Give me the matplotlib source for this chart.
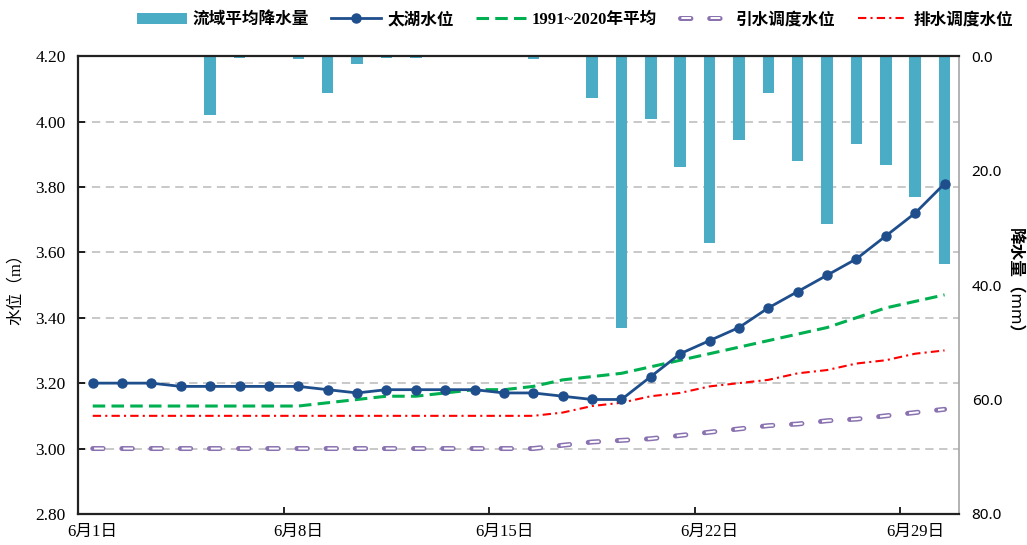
import numpy as np
import matplotlib
matplotlib.use("Agg")
import matplotlib.pyplot as plt
from matplotlib.ticker import FormatStrFormatter

plt.rcParams['font.family'] = ['Liberation Serif', 'Noto Sans CJK SC']
plt.rcParams['lines.scale_dashes'] = False

days = list(range(1, 31))
day_labels = ["6月%d日" % d for d in days]

rain = [0, 0, 0, 0.2, 10.3, 0.4, 0, 0.5, 6.5, 1.3, 0.4, 0.3, 0, 0, 0, 0.5, 0,
        7.3, 47.5, 11.0, 19.3, 32.7, 14.7, 6.5, 18.3, 29.4, 15.3, 19.0, 24.6, 36.4]
taihu = [3.20, 3.20, 3.20, 3.19, 3.19, 3.19, 3.19, 3.19, 3.18, 3.17, 3.18, 3.18, 3.18, 3.18, 3.17,
         3.17, 3.16, 3.15, 3.15, 3.22, 3.29, 3.33, 3.37, 3.43, 3.48, 3.53, 3.58, 3.65, 3.72, 3.81]
avg_1991_2020 = [3.13, 3.13, 3.13, 3.13, 3.13, 3.13, 3.13, 3.13, 3.14, 3.15, 3.16, 3.16, 3.17, 3.18, 3.18,
                 3.19, 3.21, 3.22, 3.23, 3.25, 3.27, 3.29, 3.31, 3.33, 3.35, 3.37, 3.40, 3.43, 3.45, 3.47]
yinshui = [3.00] * 16 + [3.01, 3.02, 3.025, 3.03, 3.04, 3.05, 3.06, 3.07, 3.075, 3.085, 3.09, 3.10, 3.11, 3.12]
paishui = [3.10] * 16 + [3.11, 3.13, 3.14, 3.16, 3.17, 3.19, 3.20, 3.21, 3.23, 3.24, 3.26, 3.27, 3.29, 3.30]

level_ticks = [2.80, 3.00, 3.20, 3.40, 3.60, 3.80, 4.00, 4.20]
rain_ticks = [0, 20, 40, 60, 80]

x = np.arange(len(days))

fig = plt.figure(figsize=(10.27, 5.45), dpi=100)
ax = fig.add_axes([0.076, 0.057, 0.858, 0.84])
ax2 = ax.twinx()

# bars go on the lower axes, lines on top
ax.set_zorder(ax2.get_zorder() + 1)
ax.patch.set_visible(False)

ax2.set_ylim(80, 0)
ax2.set_yticks(rain_ticks)
ax2.yaxis.set_major_formatter(FormatStrFormatter('%.1f'))
for lv in level_ticks[1:-1]:
    ax2.axhline((4.2 - lv) / 1.4 * 80, color='#bfbfbf', lw=1.2, dashes=(6, 4), zorder=0.5)
bars = ax2.bar(x, rain, width=0.39, color='#4bacc6', zorder=1, label='流域平均降水量')
ax2.tick_params(axis='y', length=0, pad=9, labelsize=11)
for lab in ax2.get_yticklabels():
    lab.set_family('Noto Sans')
ax2.set_ylabel('降水量（mm）', rotation=270, labelpad=14, fontsize=12,
               family=['Noto Sans', 'Noto Sans CJK SC'], fontweight='bold')
for s in ['left', 'top', 'bottom']:
    ax2.spines[s].set_visible(False)
ax2.spines['right'].set_color('#a6a6a6')
ax2.spines['right'].set_linewidth(1.2)

l_taihu, = ax.plot(x, taihu, color='#1f4e8c', lw=2, marker='o', ms=6.5, zorder=5, label='太湖水位')
l_avg, = ax.plot(x, avg_1991_2020, color='#00b050', lw=2.2, dashes=(9, 4.5), zorder=4, label='1991~2020年平均')
l_yin_o, = ax.plot(x, yinshui, color='#8a72b0', lw=3.6, dashes=(7.5, 13.5),
                   dash_capstyle='round', zorder=3)
l_yin_i, = ax.plot(x, yinshui, color='white', lw=1.4, linestyle=(20, (7, 14)), zorder=3.1)
l_pai, = ax.plot(x, paishui, color='#ff0000', lw=1.5, dashes=(6, 3, 1.5, 3), zorder=3.5, label='排水调度水位')

ax.set_xlim(-0.5, len(days) - 0.5)
ax.set_ylim(2.8, 4.2)
ax.set_yticks(level_ticks)
ax.yaxis.set_major_formatter(FormatStrFormatter('%.2f'))
ax.tick_params(axis='y', direction='in', length=5, width=1.2, pad=9, labelsize=12.5)

ax.set_xticks([6.5, 13.5, 20.5, 27.5])
ax.set_xticklabels([])
ax.tick_params(axis='x', which='major', direction='in', length=5, width=1.2)
ax.set_xticks(x[::7], minor=True)
ax.set_xticklabels(day_labels[::7], minor=True)
ax.tick_params(axis='x', which='minor', length=0, pad=7, labelsize=12)

ax.set_ylabel('水位（m）', fontsize=12, family=['Liberation Serif', 'Noto Sans CJK SC'], labelpad=8)

for s in ['left', 'top', 'bottom']:
    ax.spines[s].set_color('#222222')
    ax.spines[s].set_linewidth(1.6)
ax.spines['right'].set_visible(False)

handles = [bars, l_taihu, l_avg, (l_yin_o, l_yin_i), l_pai]
labels = ['流域平均降水量', '太湖水位', '1991~2020年平均', '引水调度水位', '排水调度水位']
fig.legend(handles, labels, loc='upper center', bbox_to_anchor=(0.56, 1.005), ncol=5, frameon=False,
           handlelength=3.0, handletextpad=0.35, columnspacing=1.35,
           prop={'family': ['Liberation Serif', 'Noto Sans CJK SC'], 'weight': 'bold', 'size': 12})

fig.savefig('out.png', dpi=100)
